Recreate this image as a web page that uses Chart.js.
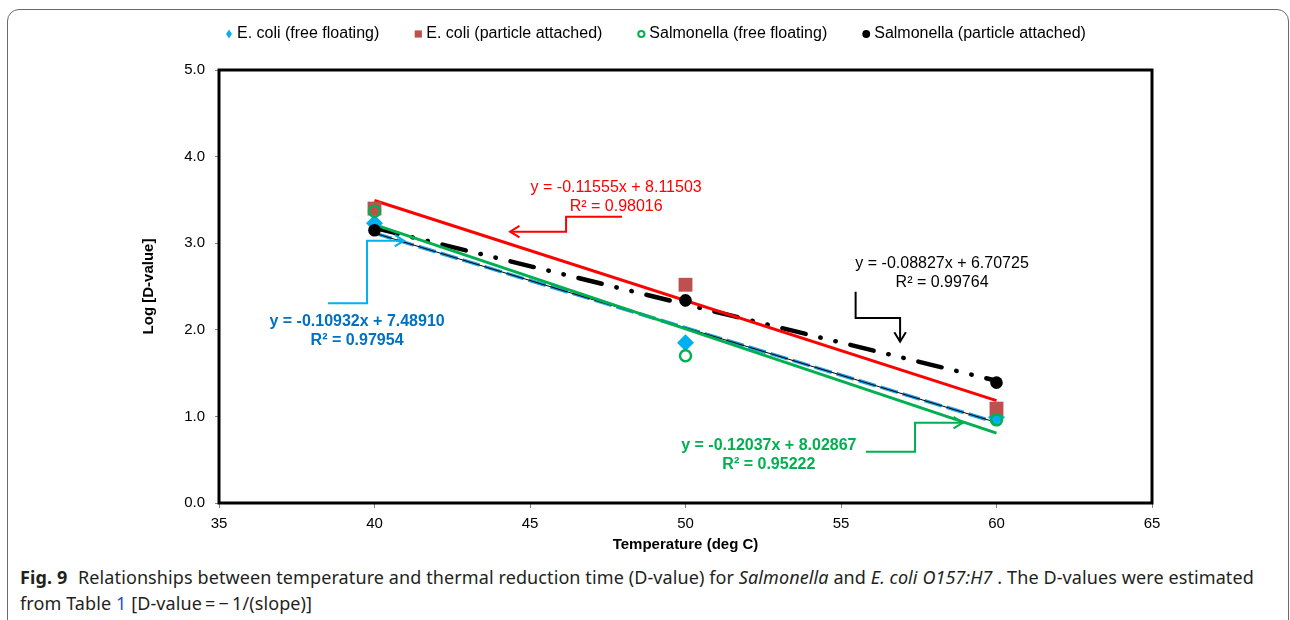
<!DOCTYPE html>
<html>
<head>
<meta charset="utf-8">
<script src="https://cdn.jsdelivr.net/npm/chart.js@4.4.1/dist/chart.umd.min.js"></script>
<style>
  body { margin: 0; background: #fff; }
  #fig { position: relative; width: 1290px; height: 620px; overflow: hidden; }
  #frame { position: absolute; left: 7px; top: 9px; width: 1280px; height: 700px;
           border: 1px solid #6a6a6a; border-radius: 12px; }
  #chart { position: absolute; left: 0; top: 0; }
  #caption { position: absolute; left: 20px; top: 564px; width: 1250px;
             font: 18px "Noto Sans", sans-serif; letter-spacing: 0.1px; line-height: 26px; color: #231f20; }
  #caption b { font-weight: 700; margin-right: 6px; }
  #caption .ref { color: #1a4fd6; }
</style>
</head>
<body>
<div id="fig">
  <div id="frame"></div>
  <canvas id="chart" width="1290" height="560"></canvas>
  <div id="caption"><b>Fig. 9</b> Relationships between temperature and thermal reduction time (D-value) for <i>Salmonella</i> and <i>E. coli O157:H7</i> . The D-values were estimated from Table <span class="ref">1</span> [D-value&thinsp;=&thinsp;&minus;&thinsp;1/(slope)]</div>
</div>
<script>
// temperature (deg C) and log D-values per group
const temps = [40, 50, 60];
const ecoliFree = [3.23, 1.85, 0.99];
const ecoliAttached = [3.40, 2.52, 1.09];
const salmFree = [3.37, 1.70, 0.96];
const salmAttached = [3.15, 2.34, 1.39];

const seriesNames = ['E. coli (free floating)', 'E. coli (particle attached)',
  'Salmonella (free floating)', 'Salmonella (particle attached)'];

// linear fits, same order as seriesNames
const slopes = [-0.10932, -0.11555, -0.12037, -0.08827];
const intercepts = [7.48910, 8.11503, 8.02867, 6.70725];
const rSquared = [0.97954, 0.98016, 0.95222, 0.99764];

const xRange = [35, 65, 5];
const yRange = [0, 5, 1];

const FONT = "'Liberation Sans', Arial, sans-serif";
Chart.defaults.font.family = FONT;
Chart.defaults.font.size = 15;
Chart.defaults.color = '#000';

const pts = vals => temps.map((t, i) => ({x: t, y: vals[i]}));
const fitLine = k => [temps[0], temps[temps.length - 1]].map(t => ({x: t, y: slopes[k] * t + intercepts[k]}));

const markers = [
  {style: 'rectRot', color: '#00B0F0'},
  {style: 'rect', color: '#C0504D'},
  {style: 'circleOpen', color: '#00B050'},
  {style: 'circle', color: '#000000'}
];

// equation labels and their elbow connectors, in data units
const notes = [
  {k: 0, color: '#0070C0', line: '#00B0F0', bold: true, at: [39.44, 2.09],
   path: [[38.50, 2.306], [39.76, 2.306], [39.76, 3.029], [40.95, 3.029]]},
  {k: 1, color: '#FF0000', line: '#FF0000', bold: false, at: [47.77, 3.64],
   path: [[47.96, 3.306], [46.16, 3.306], [46.16, 3.133], [44.36, 3.133]]},
  {k: 2, color: '#00B050', line: '#00B050', bold: true, at: [52.68, 0.662],
   path: [[55.80, 0.592], [57.38, 0.592], [57.38, 0.927], [58.92, 0.927]]},
  {k: 3, color: '#000000', line: '#000000', bold: false, at: [58.25, 2.76],
   path: [[55.47, 2.44], [55.47, 2.136], [56.90, 2.136], [56.90, 1.863]]}
];

function drawMarker(ctx, style, x, y, color, s) {
  ctx.save();
  ctx.fillStyle = color; ctx.strokeStyle = color;
  ctx.beginPath();
  if (style === 'rectRot') {
    ctx.moveTo(x, y - s * 1.25); ctx.lineTo(x + s * 0.8, y);
    ctx.lineTo(x, y + s * 1.25); ctx.lineTo(x - s * 0.8, y);
    ctx.closePath(); ctx.fill();
  } else if (style === 'rect') {
    ctx.rect(x - s, y - s, 2 * s, 2 * s); ctx.fill();
  } else if (style === 'circleOpen') {
    ctx.lineWidth = 2;
    ctx.arc(x, y, s - 0.5, 0, Math.PI * 2); ctx.stroke();
  } else {
    ctx.arc(x, y, s + 0.3, 0, Math.PI * 2); ctx.fill();
  }
  ctx.restore();
}

const extras = {
  id: 'extras',
  afterDraw(chart) {
    const {ctx, chartArea: a} = chart;
    const xs = chart.scales.x, ys = chart.scales.y;

    // plot frame
    ctx.save();
    ctx.strokeStyle = '#000';
    ctx.lineWidth = 3;
    ctx.strokeRect(a.left, a.top, a.right - a.left, a.bottom - a.top);
    ctx.restore();

    // legend row
    ctx.save();
    ctx.font = '16px ' + FONT;
    ctx.textBaseline = 'middle';
    ctx.fillStyle = '#000';
    let x = 225;
    const ly = 34;
    seriesNames.forEach((name, i) => {
      drawMarker(ctx, markers[i].style, x + 4, ly, markers[i].color, 3.6);
      ctx.fillStyle = '#000';
      ctx.fillText(name, x + 12, ly);
      x += 12 + ctx.measureText(name).width + 35;
    });
    ctx.restore();

    // equation labels with arrows
    notes.forEach(n => {
      const cx = xs.getPixelForValue(n.at[0]);
      const cy = ys.getPixelForValue(n.at[1]);
      ctx.save();
      ctx.fillStyle = n.color;
      ctx.font = (n.bold ? 'bold ' : '') + '16px ' + FONT;
      ctx.textAlign = 'center';
      ctx.textBaseline = 'middle';
      ctx.fillText('y = ' + slopes[n.k].toFixed(5) + 'x + ' + intercepts[n.k].toFixed(5), cx, cy);
      ctx.fillText('R\u00b2 = ' + rSquared[n.k].toFixed(5), cx, cy + 19);

      const p = n.path.map(q => [xs.getPixelForValue(q[0]), ys.getPixelForValue(q[1])]);
      ctx.strokeStyle = n.line;
      ctx.lineWidth = 2;
      ctx.beginPath();
      p.forEach((q, i) => i ? ctx.lineTo(q[0], q[1]) : ctx.moveTo(q[0], q[1]));
      ctx.stroke();
      const [ex, ey] = p[p.length - 1], [px, py] = p[p.length - 2];
      const ang = Math.atan2(ey - py, ex - px);
      ctx.beginPath();
      ctx.moveTo(ex - 11 * Math.cos(ang - 0.55), ey - 11 * Math.sin(ang - 0.55));
      ctx.lineTo(ex, ey);
      ctx.lineTo(ex - 11 * Math.cos(ang + 0.55), ey - 11 * Math.sin(ang + 0.55));
      ctx.stroke();
      ctx.restore();
    });
  }
};

const scatter = (k, vals, opts) => Object.assign({
  label: seriesNames[k], data: pts(vals), showLine: false
}, opts);

const trend = (k, opts) => Object.assign({
  label: 'fit ' + k, data: fitLine(k), showLine: true, pointRadius: 0, fill: false
}, opts);

new Chart(document.getElementById('chart'), {
  type: 'scatter',
  data: {
    datasets: [
      scatter(3, salmAttached, {pointStyle: 'circle', pointRadius: 6.3, backgroundColor: '#000', borderColor: '#000', borderWidth: 0}),
      scatter(2, salmFree, {pointStyle: 'circle', pointRadius: 5.5, backgroundColor: 'rgba(0,0,0,0)', borderColor: '#00B050', borderWidth: 2.5}),
      scatter(1, ecoliAttached, {pointStyle: 'rect', pointRadius: 9.8, backgroundColor: '#C0504D', borderColor: '#C0504D', borderWidth: 0}),
      scatter(0, ecoliFree, {pointStyle: 'rectRot', pointRadius: 8.5, backgroundColor: '#00B0F0', borderColor: '#00B0F0', borderWidth: 0}),
      trend(1, {borderColor: '#FF0000', borderWidth: 3}),
      trend(2, {borderColor: '#00B050', borderWidth: 3}),
      trend(0, {borderColor: '#000', borderWidth: 1}),
      trend(3, {borderColor: '#000', borderWidth: 4.5, borderDash: [24, 15, 0.5, 15, 0.5, 15], borderCapStyle: 'round'}),
      trend(0, {borderColor: '#1E9FE6', borderWidth: 3.5, borderDash: [18, 5]})
    ]
  },
  options: {
    responsive: false,
    animation: false,
    layout: {padding: {top: 70, right: 138, bottom: 0, left: 0}},
    plugins: {legend: {display: false}, tooltip: {enabled: false}},
    scales: {
      x: {
        type: 'linear', min: xRange[0], max: xRange[1],
        ticks: {stepSize: xRange[2], padding: 7, font: {size: 15}},
        grid: {display: true, drawOnChartArea: false, drawTicks: true, tickLength: 5, color: '#808080'},
        border: {display: true, color: '#555', width: 1},
        title: {display: true, text: 'Temperature (deg C)', font: {size: 15, weight: 'bold'}, padding: {top: 0, bottom: 6}},
        afterFit(s) { s.height = 57; }
      },
      y: {
        type: 'linear', min: yRange[0], max: yRange[1],
        ticks: {stepSize: yRange[2], padding: 10, font: {size: 15}, callback: v => v.toFixed(1)},
        grid: {display: true, drawOnChartArea: false, drawTicks: true, tickLength: 4, color: '#808080'},
        border: {display: true, color: '#555', width: 1},
        title: {display: true, text: 'Log [D-value]', font: {size: 15, weight: 'bold'}, padding: {top: 140, bottom: 0}},
        afterFit(s) { s.width = 219; }
      }
    }
  },
  plugins: [extras]
});
</script>
</body>
</html>
